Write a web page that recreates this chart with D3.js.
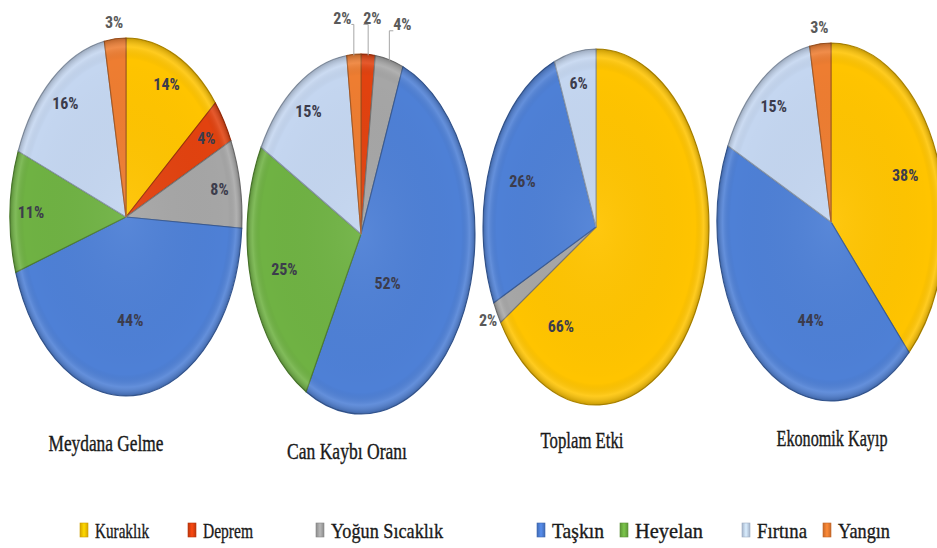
<!DOCTYPE html>
<html>
<head>
<meta charset="utf-8">
<script src="https://cdn.jsdelivr.net/npm/d3@7/dist/d3.min.js"></script>
<style>
  html, body { margin: 0; padding: 0; background: #ffffff; }
  svg { display: block; }
  .serif { font-family: "Liberation Serif", "Times New Roman", serif; }
</style>
</head>
<body>
<svg id="chart" width="937" height="548"></svg>
<script>
// ---------------- DATA ----------------
const categories = ["Kuraklık", "Deprem", "Yoğun Sıcaklık", "Taşkın", "Heyelan", "Fırtına", "Yangın"];
const chartTitles = ["Meydana Gelme", "Can Kaybı Oranı", "Toplam Etki", "Ekonomik Kayıp"];
const meydanaGelme  = [14, 4, 8, 44, 11, 16, 3];
const canKaybiOrani = [0, 2, 4, 52, 25, 15, 2];
const toplamEtki    = [66, 0, 2, 26, 0, 6, 0];
const ekonomikKayip = [38, 0, 0, 44, 0, 15, 3];
const seriesValues = [meydanaGelme, canKaybiOrani, toplamEtki, ekonomikKayip];

// ---------------- STYLE / LAYOUT ----------------
const palette = ["#FFC400", "#E2420F", "#A6A6A6", "#4E80D6", "#6FB243", "#C4D6F0", "#EE7D31"];
const pieCx = d3.scalePoint().domain(chartTitles).range([126, 831]);
const pieCy = [217, 234, 227, 222];
const pieRx = [116, 114, 113, 114];
const pieRy = [179, 180, 178, 179];
const titleDx = [-20, -14, -14, 1];
const titleY = [451, 459, 448, 446];
const titleW = [115, 120, 83, 111];
const legendX = [80, 188, 316, 537, 620, 742, 823];
const legendW = [54, 50, 112, 52, 68, 50, 52];

const svg = d3.select("#chart");
const defs = svg.append("defs");

const shade = defs.append("radialGradient").attr("id", "shade")
  .attr("cx", "50%").attr("cy", "50%").attr("r", "50%");
shade.append("stop").attr("offset", "0%").attr("stop-color", "#ffffff").attr("stop-opacity", 0.06);
shade.append("stop").attr("offset", "88%").attr("stop-color", "#000000").attr("stop-opacity", 0.0);
shade.append("stop").attr("offset", "95%").attr("stop-color", "#ffffff").attr("stop-opacity", 0.12);
shade.append("stop").attr("offset", "100%").attr("stop-color", "#000000").attr("stop-opacity", 0.22);

palette.forEach((c, i) => {
  const g = defs.append("linearGradient").attr("id", "lg" + i)
    .attr("x1", "0").attr("x2", "1").attr("y1", "0").attr("y2", "0");
  g.append("stop").attr("offset", "0%").attr("stop-color", d3.color(c).darker(0.5));
  g.append("stop").attr("offset", "50%").attr("stop-color", d3.color(c).brighter(0.3));
  g.append("stop").attr("offset", "100%").attr("stop-color", d3.color(c).darker(0.5));
});

const pie = d3.pie().sort(null).value(d => d.v);

seriesValues.forEach((vals, pi) => {
  const title = chartTitles[pi];
  const cx = pieCx(title), cy = pieCy[pi], rx = pieRx[pi], ry = pieRy[pi];
  const data = vals.map((v, i) => ({ v, i }));
  const arcs = pie(data).filter(a => a.data.v > 0);
  const arc = d3.arc().innerRadius(0).outerRadius(ry);

  const g = svg.append("g")
    .attr("transform", `translate(${cx},${cy}) scale(${rx / ry},1)`);

  g.selectAll("path.slice").data(arcs).enter().append("path")
    .attr("class", "slice")
    .attr("d", arc)
    .attr("fill", d => palette[d.data.i])
    .attr("stroke", d => d3.color(palette[d.data.i]).darker(1.0))
    .attr("stroke-width", 1.1)
    .attr("vector-effect", "non-scaling-stroke");

  g.append("circle").attr("r", ry).attr("fill", "url(#shade)").attr("pointer-events", "none");

  const pt = (a, f) => [cx + rx * f * Math.sin(a), cy - ry * f * Math.cos(a)];

  const nz = arcs;
  const outside = nz.map((a, k) => {
    const v = a.data.v;
    if (v <= 3) return true;
    if (v < 5) {
      const prev = nz[(k - 1 + nz.length) % nz.length].data.v;
      const next = nz[(k + 1) % nz.length].data.v;
      return prev <= 3 || next <= 3;
    }
    return false;
  });
  const crowded = nz.map((a, k) => outside[k] &&
    (outside[(k - 1 + nz.length) % nz.length] || outside[(k + 1) % nz.length]) && nz.length > 1);

  const labels = nz.map((a, k) => {
    const v = a.data.v;
    const mid = (a.startAngle + a.endAngle) / 2;
    let ang = mid, f;
    if (outside[k]) {
      f = crowded[k] ? 1.2 : 1.09;
    } else if (v >= 50) {
      const t = (v - 52) / 14;
      ang = a.startAngle + (0.63 + 0.25 * t) * (a.endAngle - a.startAngle);
      f = 0.36 + 0.28 * t;
    } else if (v >= 40) {
      ang = (mid + Math.PI) / 2; f = 0.58;
    } else if (v >= 20) {
      f = 0.7;
    } else {
      f = 0.82;
    }
    const p = pt(ang, f);
    return { k, v, x: p[0], y: p[1], out: outside[k], crowd: crowded[k], edge: pt(mid, 1.0) };
  });

  const outs = labels.filter(l => l.crowd).sort((a, b) => a.x - b.x);
  for (let it = 0; it < 30; it++) {
    for (let j = 1; j < outs.length; j++) {
      const d = outs[j].x - outs[j - 1].x;
      if (d < 30) { const s = (30 - d) / 2; outs[j].x += s; outs[j - 1].x -= s; }
    }
  }
  outs.forEach(l => {
    svg.append("polyline")
      .attr("points", `${l.edge[0]},${l.edge[1] + 1} ${l.edge[0]},${l.y + 6} ${l.x + (l.x > l.edge[0] ? -9 : 9)},${l.y + 6}`)
      .attr("fill", "none").attr("stroke", "#a6a6a6").attr("stroke-width", 1);
  });

  labels.forEach(l => {
    svg.append("text")
      .attr("transform", `translate(${l.x},${l.y})`)
      .attr("text-anchor", "middle")
      .attr("dominant-baseline", "central")
      .attr("font-family", "'Roboto Condensed', Roboto, sans-serif")
      .attr("font-weight", 700)
      .attr("font-size", 16)
      .attr("fill", l.out ? "#5a5a5a" : "#3c3c4c")
      .text(l.v + "%");
  });

  svg.append("text")
    .attr("class", "serif")
    .attr("x", cx + titleDx[pi] - titleW[pi] / 2)
    .attr("y", titleY[pi])
    .attr("font-size", 24)
    .attr("fill", "#1a1a1a")
    .attr("stroke", "#1a1a1a").attr("stroke-width", 0.4)
    .attr("textLength", titleW[pi])
    .attr("lengthAdjust", "spacingAndGlyphs")
    .text(title);
});

// ---------------- LEGEND ----------------
const legend = svg.append("g");
categories.forEach((c, i) => {
  legend.append("rect")
    .attr("x", legendX[i]).attr("y", 523)
    .attr("width", 8).attr("height", 14)
    .attr("fill", `url(#lg${i})`)
    .attr("stroke", d3.color(palette[i]).darker(0.6)).attr("stroke-width", 0.6);
  legend.append("text")
    .attr("class", "serif")
    .attr("x", legendX[i] + 15).attr("y", 538)
    .attr("font-size", 22)
    .attr("fill", "#1a1a1a")
    .attr("stroke", "#1a1a1a").attr("stroke-width", 0.35)
    .attr("textLength", legendW[i])
    .attr("lengthAdjust", "spacingAndGlyphs")
    .text(c);
});
</script>
</body>
</html>
